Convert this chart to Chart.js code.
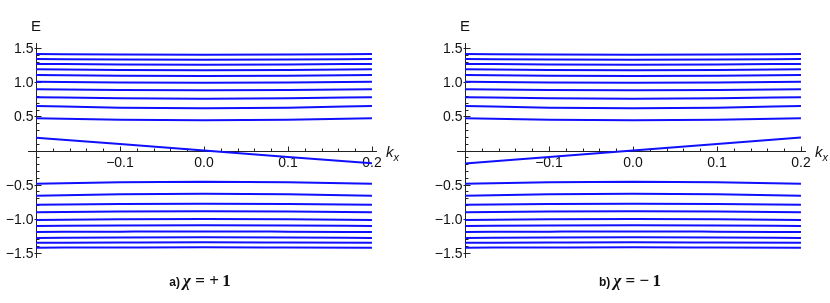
<!DOCTYPE html>
<html>
<head>
<meta charset="utf-8">
<script src="https://cdn.jsdelivr.net/npm/chart.js@4/dist/chart.umd.min.js"></script>
<style>
  body { margin: 0; background: #fff; }
  #wrap { position: relative; width: 830px; height: 303px; overflow: hidden; }
  .panel { position: absolute; top: 0; width: 401px; height: 303px; }
  .lbl { position: absolute; color: #111; white-space: nowrap; }
  .elbl { font: 15px "Liberation Sans", Arial, sans-serif; top: 17px; }
  .klbl { font: italic 15px "Liberation Sans", Arial, sans-serif; top: 143px; }
  .klbl sub { font-size: 11px; }
  .cap { top: 271px; width: 160px; text-align: center; }
  .cap .tag { font: bold 12px "Liberation Sans", Arial, sans-serif; }
  .cap .eq { font: bold 17px "Liberation Serif", "Times New Roman", serif; }
</style>
</head>
<body>
<div id="wrap">
  <div class="panel" style="left:0"><canvas id="chartA"></canvas></div>
  <div class="panel" style="left:429px"><canvas id="chartB"></canvas></div>
  <div class="lbl elbl" style="left:31px">E</div>
  <div class="lbl elbl" style="left:460px">E</div>
  <div class="lbl klbl" style="left:386px">k<sub>x</sub></div>
  <div class="lbl klbl" style="left:815px">k<sub>x</sub></div>
  <div class="lbl cap" style="left:120px"><span class="tag">a)</span>&thinsp;<span class="eq"><i>χ</i> = +&thinsp;1</span></div>
  <div class="lbl cap" style="left:550px"><span class="tag">b)</span>&thinsp;<span class="eq"><i>χ</i> = −&thinsp;1</span></div>
</div>
<script>
// momentum samples
const kx = [-0.2, -0.1, 0.0, 0.1, 0.2];

// positive Landau levels (n = 1..10), E at each kx
const upperLevels = [
    [0.471, 0.449, 0.442, 0.449, 0.471],
    [0.652, 0.627, 0.618, 0.627, 0.652],
    [0.781, 0.764, 0.758, 0.764, 0.781],
    [0.898, 0.885, 0.881, 0.885, 0.898],
    [1.007, 0.997, 0.993, 0.997, 1.007],
    [1.105, 1.095, 1.091, 1.095, 1.105],
    [1.189, 1.178, 1.174, 1.178, 1.189],
    [1.268, 1.259, 1.256, 1.259, 1.268],
    [1.340, 1.332, 1.329, 1.332, 1.340],
    [1.413, 1.405, 1.403, 1.405, 1.413]
];

// negative Landau levels
const lowerLevels = [
    [-0.486, -0.464, -0.457, -0.464, -0.486],
    [-0.662, -0.640, -0.632, -0.640, -0.662],
    [-0.794, -0.783, -0.779, -0.783, -0.794],
    [-0.905, -0.893, -0.890, -0.893, -0.905],
    [-1.018, -1.007, -1.003, -1.007, -1.018],
    [-1.105, -1.098, -1.095, -1.098, -1.105],
    [-1.193, -1.188, -1.185, -1.188, -1.193],
    [-1.281, -1.274, -1.271, -1.274, -1.281],
    [-1.350, -1.347, -1.345, -1.347, -1.350],
    [-1.423, -1.420, -1.418, -1.420, -1.423]
];

// chiral zeroth level
const chiralPlus = [0.187, 0.094, 0.0, -0.094, -0.187];
const chiralMinus = [-0.190, -0.095, 0.0, 0.095, 0.190];

// tick labels
const xTicks = [-0.1, 0.0, 0.1, 0.2];
const xTickLabels = ['−0.1', '0.0', '0.1', '0.2'];
const yTicks = [-1.5, -1.0, -0.5, 0.5, 1.0, 1.5];
const yTickLabels = ['−1.5', '−1.0', '−0.5', '0.5', '1.0', '1.5'];

const BLUE = '#1010ff';

function toPoints(vals) {
    return kx.map((k, i) => ({ x: k, y: vals[i] }));
}

// axes drawn Mathematica style through the origin of the plot
const mmaAxes = {
    id: 'mmaAxes',
    beforeDatasetsDraw(chart) {
        const ctx = chart.ctx;
        const xs = chart.scales.x, ys = chart.scales.y;
        const area = chart.chartArea;
        const x0 = Math.round(xs.getPixelForValue(-0.2)) + 0.5;
        const y0 = Math.round(ys.getPixelForValue(0)) + 0.5;
        ctx.save();
        ctx.strokeStyle = '#222';
        ctx.lineWidth = 1;
        ctx.beginPath();
        ctx.moveTo(area.left, y0); ctx.lineTo(area.right, y0);
        ctx.moveTo(x0, area.top); ctx.lineTo(x0, area.bottom);
        // x ticks
        for (let i = -10; i <= 10; i++) {
            const v = i * 0.02;
            const px = Math.round(xs.getPixelForValue(v)) + 0.5;
            const major = i % 5 === 0;
            ctx.moveTo(px, y0);
            ctx.lineTo(px, y0 - (major ? 5 : 3));
        }
        // y ticks
        for (let i = -15; i <= 15; i++) {
            if (i === 0) continue;
            const v = i * 0.1;
            const py = Math.round(ys.getPixelForValue(v)) + 0.5;
            const major = i % 5 === 0;
            ctx.moveTo(x0 - (major ? 2 : 0), py);
            ctx.lineTo(x0 + (major ? 5 : 3), py);
        }
        ctx.stroke();

        ctx.fillStyle = '#111';
        ctx.font = '14px "Liberation Sans", Arial, sans-serif';
        ctx.textAlign = 'center';
        ctx.textBaseline = 'top';
        xTicks.forEach((v, i) => {
            ctx.fillText(xTickLabels[i], xs.getPixelForValue(v), y0 + 5);
        });
        ctx.textAlign = 'right';
        ctx.textBaseline = 'middle';
        yTicks.forEach((v, i) => {
            ctx.fillText(yTickLabels[i], x0 - 3, ys.getPixelForValue(v) + 1);
        });
        ctx.restore();
    }
};

function makeChart(id, chiral) {
    const datasets = [];
    upperLevels.concat(lowerLevels).forEach(vals => {
        datasets.push({ data: toPoints(vals) });
    });
    datasets.push({ data: toPoints(chiral), cubicInterpolationMode: 'default', tension: 0 });

    new Chart(document.getElementById(id), {
        type: 'line',
        data: { datasets: datasets },
        options: {
            responsive: true,
            maintainAspectRatio: false,
            animation: false,
            layout: { padding: { left: 28, right: 24, top: 43, bottom: 45 } },
            elements: {
                line: { borderColor: BLUE, borderWidth: 2, cubicInterpolationMode: 'monotone', fill: false },
                point: { radius: 0 }
            },
            plugins: { legend: { display: false }, tooltip: { enabled: false } },
            scales: {
                x: { type: 'linear', min: -0.2095, max: 0.206, display: false },
                y: { type: 'linear', min: -1.574, max: 1.574, display: false }
            }
        },
        plugins: [mmaAxes]
    });
}

makeChart('chartA', chiralPlus);
makeChart('chartB', chiralMinus);
</script>
</body>
</html>
